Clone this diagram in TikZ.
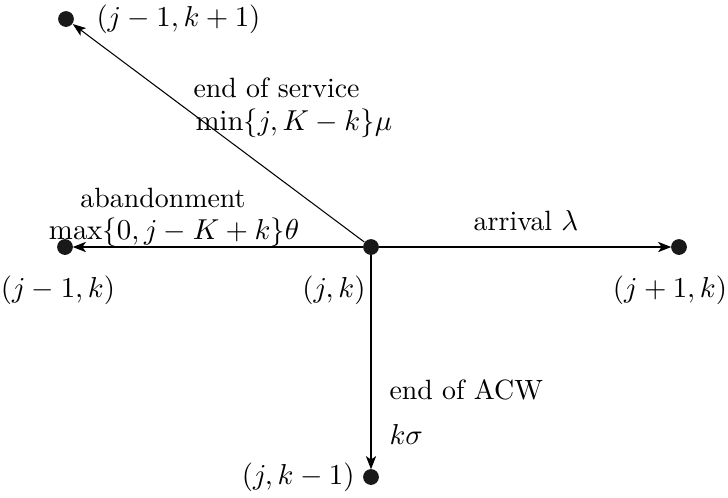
\documentclass[tikz,border=0pt]{standalone}
\usetikzlibrary{arrows.meta}
\begin{document}
\begin{tikzpicture}[x=0.38pt,y=-0.38pt,
  font=\fontsize{10.6}{12.7}\selectfont,
  dot/.style={circle,fill=black!90,inner sep=0pt,minimum size=6pt},
  thickarrow/.style={line width=1pt,-{Stealth[length=5pt,width=3.8pt,inset=1.3pt]},shorten >=-0.3pt},
  thinarrow/.style={line width=0.4pt,-{Stealth[length=5pt,width=3.6pt,inset=1.2pt]}},
  lbl/.style={inner sep=0pt}]
\useasboundingbox (0,0) rectangle (728,497);
\node[dot] (c) at (371,247) {};
\node[dot] (l) at (65,247) {};
\node[dot] (r) at (679,247) {};
\node[dot] (tl) at (66,19) {};
\node[dot] (b) at (371,477) {};
\draw[thickarrow] (c) -- (r);
\draw[thickarrow] (c) -- (l);
\draw[thickarrow] (c) -- (b);
\draw[thinarrow] (c) -- (tl);
\node[lbl,anchor=west] (tllab) at (96,19) {$(j-1,k+1)$};
\node[lbl,anchor=west] (serv1) at (193,88) {end of service};
\node[lbl,anchor=west] (serv2) at (195,123) {$\min\{j,K-k\}\mu$};
\node[lbl] (ab1) at (163,198) {abandonment};
\node[lbl] (ab2) at (174,232) {$\max\{0,j-K+k\}\theta$};
\node[lbl] (arr) at (526,221) {arrival $\lambda$};
\node[lbl] (llab) at (58,290) {$(j-1,k)$};
\node[lbl] (clab) at (334,290) {$(j,k)$};
\node[lbl] (rlab) at (670,290) {$(j+1,k)$};
\node[lbl,anchor=west] (acw1) at (389,390) {end of ACW};
\node[lbl,anchor=west] (acw2) at (389,434) {$k\sigma$};
\node[lbl,anchor=east] (blab) at (355,477) {$(j,k-1)$};
\end{tikzpicture}
\end{document}
